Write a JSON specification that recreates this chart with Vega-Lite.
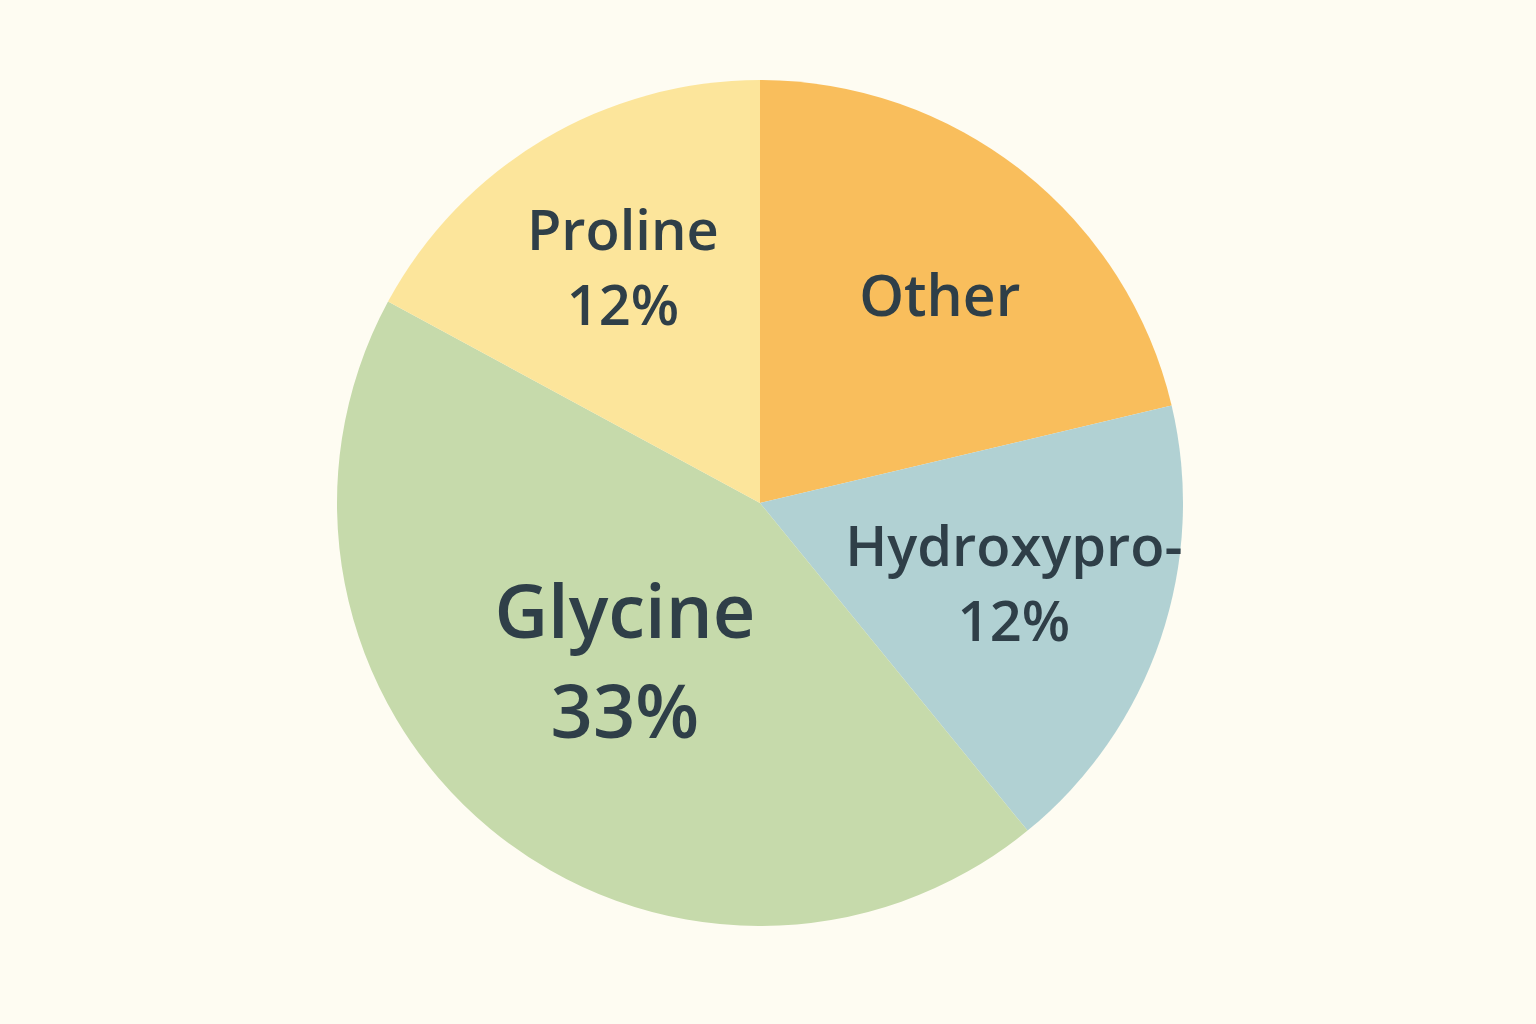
{
  "$schema": "https://vega.github.io/schema/vega-lite/v6.json",
  "width": 1536,
  "height": 1024,
  "autosize": {"type": "fit", "contains": "padding"},
  "padding": {"left": 0, "top": 0, "right": 16, "bottom": 18},
  "background": "#FEFCF2",
  "config": {"view": {"stroke": null}},
  "data": {
    "values": [
      {"name": "Other", "share": 21.3, "rank": 1, "label": "Other"},
      {"name": "Hydroxyproline", "share": 17.8, "rank": 2, "label": "Hydroxypro-\n12%"},
      {"name": "Glycine", "share": 43.8, "rank": 3, "label": "Glycine\n33%"},
      {"name": "Proline", "share": 17.1, "rank": 4, "label": "Proline\n12%"}
    ]
  },
  "encoding": {
    "theta": {"field": "share", "type": "quantitative", "stack": true},
    "order": {"field": "rank", "type": "quantitative"},
    "color": {
      "field": "name",
      "type": "nominal",
      "legend": null,
      "scale": {
        "domain": ["Other", "Hydroxyproline", "Glycine", "Proline"],
        "range": ["#F9BE5C", "#B1D1D3", "#C6DAAB", "#FCE59B"]
      }
    }
  },
  "layer": [
    {"mark": {"type": "arc", "radius": 423, "strokeWidth": 0}},
    {
      "mark": {
        "type": "text",
        "radius": 272,
        "font": "Open Sans",
        "fontWeight": 600,
        "fontSize": 57,
        "dx": 11,
        "dy": 9,
        "align": "center",
        "baseline": "middle"
      },
      "encoding": {
        "color": {"value": "#2F3F48"},
        "detail": {"field": "name", "type": "nominal"},
        "text": {"condition": {"test": "datum.name === 'Other'", "field": "label"}, "value": ""}
      }
    },
    {
      "mark": {
        "type": "text",
        "radius": 268,
        "font": "Open Sans",
        "fontWeight": 600,
        "fontSize": 56,
        "lineHeight": 75,
        "lineBreak": "\n",
        "dy": -40,
        "align": "center",
        "baseline": "middle"
      },
      "encoding": {
        "color": {"value": "#2F3F48"},
        "detail": {"field": "name", "type": "nominal"},
        "text": {"condition": {"test": "datum.name === 'Proline' || datum.name === 'Hydroxyproline'", "field": "label"}, "value": ""}
      }
    },
    {
      "mark": {
        "type": "text",
        "radius": 212,
        "font": "Open Sans",
        "fontWeight": 600,
        "fontSize": 74,
        "lineHeight": 100,
        "lineBreak": "\n",
        "dy": -50,
        "align": "center",
        "baseline": "middle"
      },
      "encoding": {
        "color": {"value": "#2F3F48"},
        "detail": {"field": "name", "type": "nominal"},
        "text": {"condition": {"test": "datum.name === 'Glycine'", "field": "label"}, "value": ""}
      }
    }
  ]
}
